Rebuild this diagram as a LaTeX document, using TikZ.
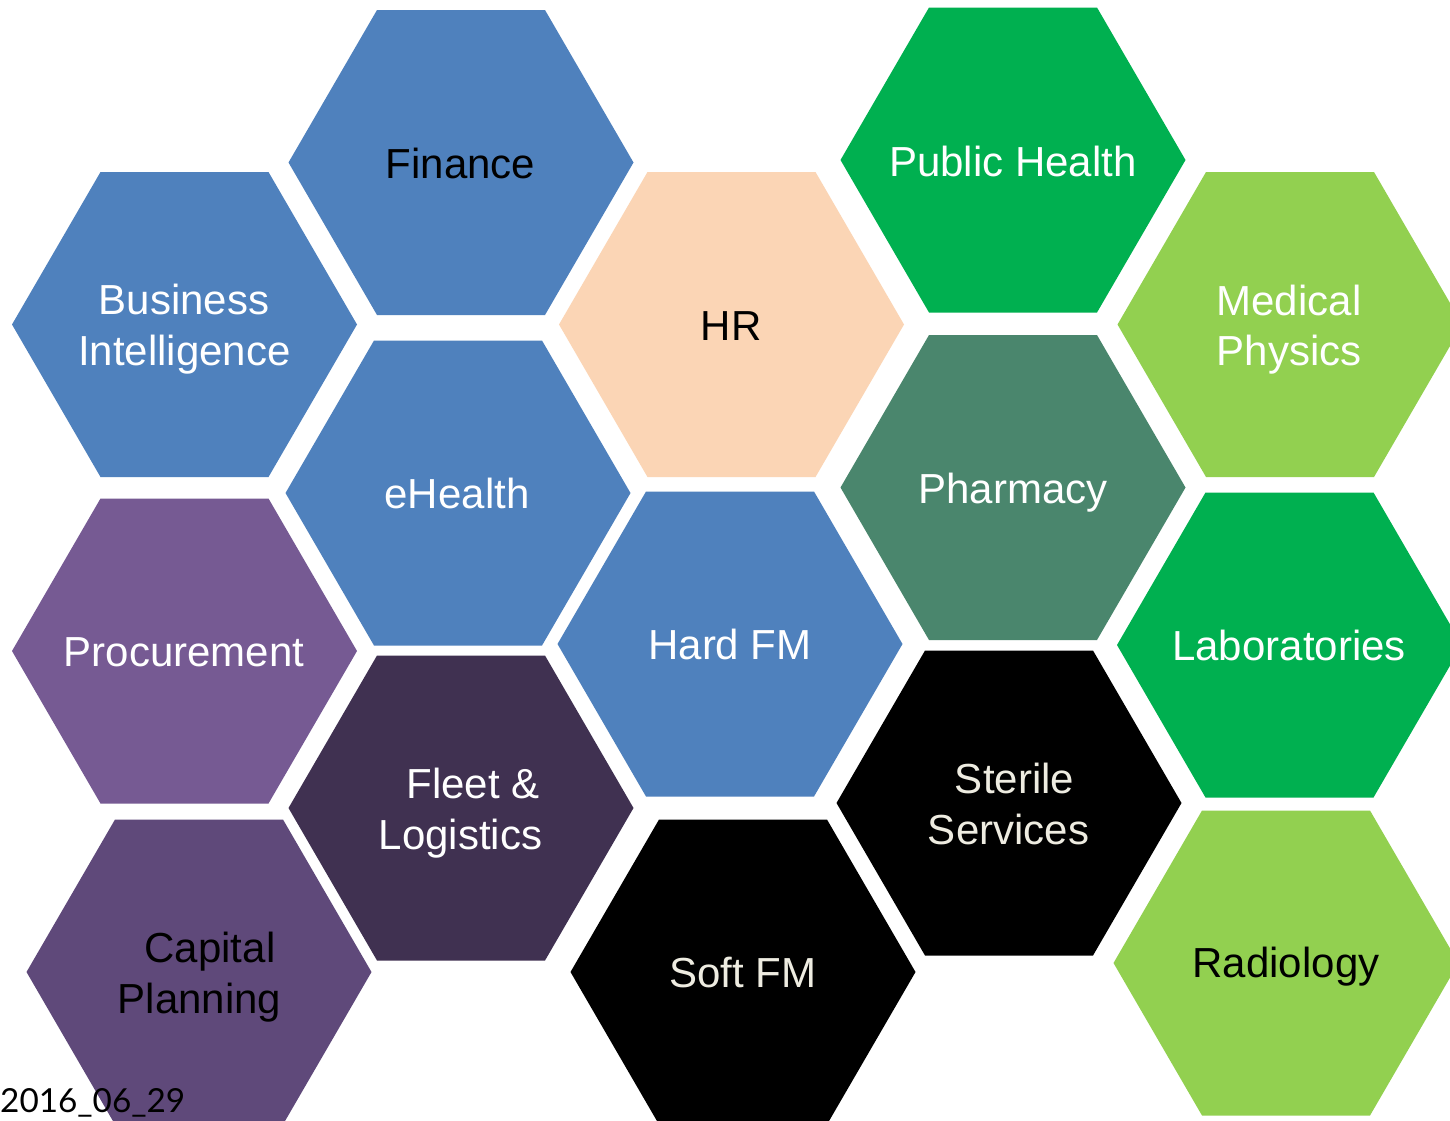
\documentclass[tikz,border=0pt]{standalone}
\usepackage{fontspec}
\setmainfont{Liberation Sans}
\newfontfamily\datefont{Lato}
\definecolor{hblue}{HTML}{4F81BD}
\definecolor{hpeach}{HTML}{FBD5B5}
\definecolor{hgreen}{HTML}{00B050}
\definecolor{hlgreen}{HTML}{92D050}
\definecolor{hteal}{HTML}{4A866D}
\definecolor{hpurple}{HTML}{765A93}
\definecolor{hdpurple}{HTML}{403151}
\definecolor{hmpurple}{HTML}{5F497A}
\definecolor{hcream}{HTML}{EEECE1}
\tikzset{
  lbl/.style={anchor=base, inner sep=0pt, font=\fontsize{42}{50}\selectfont, text=white},
  lblk/.style={lbl, text=black},
  lblc/.style={lbl, text=hcream},
}
\newcommand\hexcell[4]{% name, x, y, colour
  \coordinate (#1) at (#2,#3);
  \fill[#4, shift={(#1)}] (-172.5,0) -- (-84,-152.5) -- (84,-152.5) -- (172.5,0) -- (84,152.5) -- (-84,152.5) -- cycle;
}
\begin{document}
\begin{tikzpicture}[x=1pt,y=-1pt]
\useasboundingbox (0,0) rectangle (1450,1120);
\clip (0,0) rectangle (1450,1120);
\fill[white] (0,0) rectangle (1450,1120);
% hexagons
\hexcell{hFin}{461}{162.5}{hblue}
\hexcell{hBI}{184.5}{324.5}{hblue}
\hexcell{hHR}{731.5}{324.5}{hpeach}
\hexcell{hPH}{1013}{160}{hgreen}
\hexcell{hMP}{1290}{324.5}{hlgreen}
\hexcell{hEH}{458}{493}{hblue}
\hexcell{hPh}{1013}{487.5}{hteal}
\hexcell{hPr}{184.5}{651}{hpurple}
\hexcell{hHF}{730}{644}{hblue}
\hexcell{hLab}{1289.5}{645}{hgreen}
\hexcell{hFl}{461}{808}{hdpurple}
\hexcell{hSt}{1009}{803}{black}
\hexcell{hCP}{199}{972}{hmpurple}
\hexcell{hSF}{743}{972}{black}
\hexcell{hRad}{1286}{963}{hlgreen}
% labels
\node[lblk] (tFin) at (460.5,178) {Finance};
\node[lbl] (tBI1) at (184,314) {Business};
\node[lbl] (tBI2) at (184.5,365) {Intelligence};
\node[lblk] (tHR) at (731,340) {HR};
\node[lbl] (tPH) at (1013,176) {Public Health};
\node[lbl] (tMP1) at (1289,315) {Medical};
\node[lbl] (tMP2) at (1289,365) {Physics};
\node[lbl] (tEH) at (457,508) {eHealth};
\node[lbl] (tPh) at (1013,503) {Pharmacy};
\node[lbl] (tPr) at (184,666) {Procurement};
\node[lbl] (tHF) at (730,659) {Hard FM};
\node[lbl] (tLab) at (1289,660) {Laboratories};
\node[lblc] (tSt1) at (1014.5,793) {Sterile};
\node[lblc] (tSt2) at (1008.5,844) {Services};
\node[lbl] (tFl1) at (473,798) {Fleet \&};
\node[lbl] (tFl2) at (460.5,849) {Logistics};
\node[lblk] (tCP1) at (210,962) {Capital};
\node[lblk] (tCP2) at (199.5,1013) {Planning};
\node[lblc] (tSF) at (743,987) {Soft FM};
\node[lblk] (tRad) at (1286,977) {Radiology};
\node[anchor=base west, inner sep=0pt, font=\datefont\fontsize{36}{42}\selectfont] (tDate) at (0,1112) {\resizebox{185pt}{24pt}{2016\_06\_29}};
\end{tikzpicture}
\end{document}
